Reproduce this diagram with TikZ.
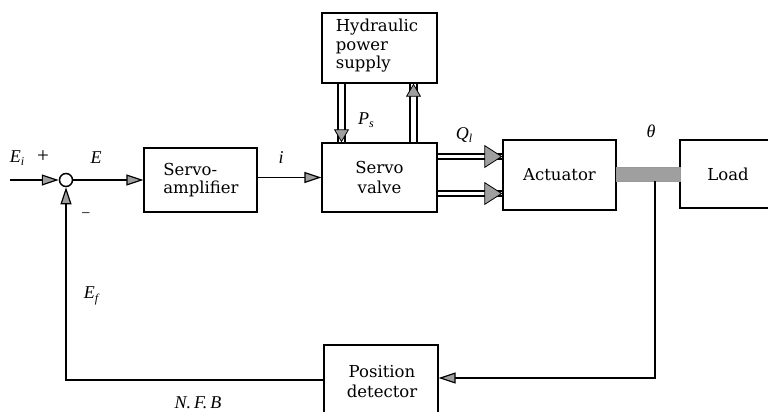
\documentclass[tikz,border=0pt]{standalone}
\usepackage{fontspec}
\setmainfont{DejaVu Serif}
\newfontfamily\labfont{Liberation Serif}
\newcommand{\subx}[1]{\raisebox{-3.5pt}{\fontsize{12}{12}\selectfont #1}}
\usetikzlibrary{arrows.meta,calc}
\begin{document}
\begin{tikzpicture}[x=1pt,y=-1pt,
  box/.style={draw,line width=1.3pt,align=center,inner sep=0pt,font=\fontsize{16.5}{20}\selectfont},
  lbl/.style={inner sep=0pt,font=\labfont\itshape\fontsize{18}{20}\selectfont},
  conn/.style={line width=1.2pt},
  arr/.style={line width=1.2pt,-{Triangle[length=17pt,width=11pt,fill=gray!75]}},
  bigtip/.style={white,line width=0.8pt,-{Triangle[length=18pt,width=23pt,fill=gray!75,color=black]}},
  hydtip/.style={white,line width=0.8pt,-{Triangle[length=13pt,width=15pt,fill=gray!75,color=black]}}]
\useasboundingbox (0,0) rectangle (768,412);
% nodes
\node[draw,circle,line width=1.5pt,fill=white,minimum size=13pt,inner sep=0pt] (sum) at (66,180) {};
\node[box,minimum width=113pt,minimum height=64pt] (amp) at (200.5,180) {};
\node[inner sep=0pt,align=left,font=\fontsize{16.5}{18.5}\selectfont] (amptext) at (201,180) {Servo-\\amplifier};
\node[box,minimum width=115pt,minimum height=69pt] (sv) at (379.5,177.5) {Servo\\valve};
\node[box,minimum width=115pt,minimum height=70pt] (hyd) at (379.5,48) {};
\node[inner sep=0pt,align=left,font=\fontsize{16.5}{18.5}\selectfont] (hydtext) at (377,46) {Hydraulic\\power\\supply};
\node[box,minimum width=113pt,minimum height=70pt] (act) at (559.5,175) {Actuator};
\node[box,minimum width=96pt,minimum height=68pt] (load) at (728,174) {Load};
\node[draw=gray!80,fill=gray!75,minimum width=64pt,minimum height=14pt,inner sep=0pt] (shaft) at (648,174) {};
\node[box,minimum width=114pt,minimum height=70pt] (pd) at (381,380) {};
\node[inner sep=0pt,align=center,font=\fontsize{16.5}{20}\selectfont] (pdtext) at (382,382) {Position\\detector};
% coordinates
\coordinate (in) at (10,180);
\coordinate (q1a) at (470,154);
\coordinate (q1b) at (470,159);
\coordinate (q1) at (470,156.5);
\coordinate (q2a) at (470,191);
\coordinate (q2b) at (470,196);
\coordinate (q2) at (470,193.5);
\coordinate (ha) at (338,0);
\coordinate (hb) at (345,0);
\coordinate (hc) at (341.5,0);
\coordinate (hd) at (410,0);
\coordinate (he) at (417,0);
\coordinate (hf) at (413.5,0);
\coordinate (fb) at (655,378);
% connectors
\draw[arr] (in) -- (sum.west);
\draw[arr] (sum.east) -- (amp.west);
\draw[arr] (sv.west -| amp.east) -- (sv.west);
% servo valve to actuator
\draw[conn] (sv.east |- q1a) -- (act.west |- q1a);
\draw[conn] (sv.east |- q1b) -- (act.west |- q1b);
\draw[bigtip] (sv.east |- q1) -- (act.west |- q1);
\draw[conn] (sv.east |- q2a) -- (act.west |- q2a);
\draw[conn] (sv.east |- q2b) -- (act.west |- q2b);
\draw[bigtip] (sv.east |- q2) -- (act.west |- q2);
% hydraulic supply
\draw[conn] (ha |- hyd.south) -- (ha |- sv.north);
\draw[conn] (hb |- hyd.south) -- (hb |- sv.north);
\draw[hydtip] (hc |- hyd.south) -- (hc |- sv.north);
\draw[conn] (hd |- sv.north) -- (hd |- hyd.south);
\draw[conn] (he |- sv.north) -- (he |- hyd.south);
\draw[hydtip] (hf |- sv.north) -- (hf |- hyd.south);
% feedback
\draw[arr] (fb |- shaft.south) -- (fb) -- (pd.east |- fb);
\draw[arr] (pd.west) -- (sum |- pd.west) -- (sum.south);
% labels
\node[lbl] (lei) at (17,158) {E\subx{i}};
\node[lbl,font=\labfont\fontsize{21}{22}\selectfont] (lplus) at (43,157) {+};
\node[lbl] (le) at (96,158) {E};
\node[lbl] (li) at (281,158) {i};
\node[lbl,font=\labfont\fontsize{16}{16}\selectfont] (lminus) at (86,216) {−};
\node[lbl] (lef) at (91,296) {E\subx{f}};
\node[lbl] (lnfb) at (198,403) {N.\,F.\,B};
\node[lbl] (lps) at (366,120) {P\subx{s}};
\node[lbl] (lql) at (464,135) {Q\subx{l}};
\node[lbl] (lth) at (651,131) {θ};
\end{tikzpicture}
\end{document}
